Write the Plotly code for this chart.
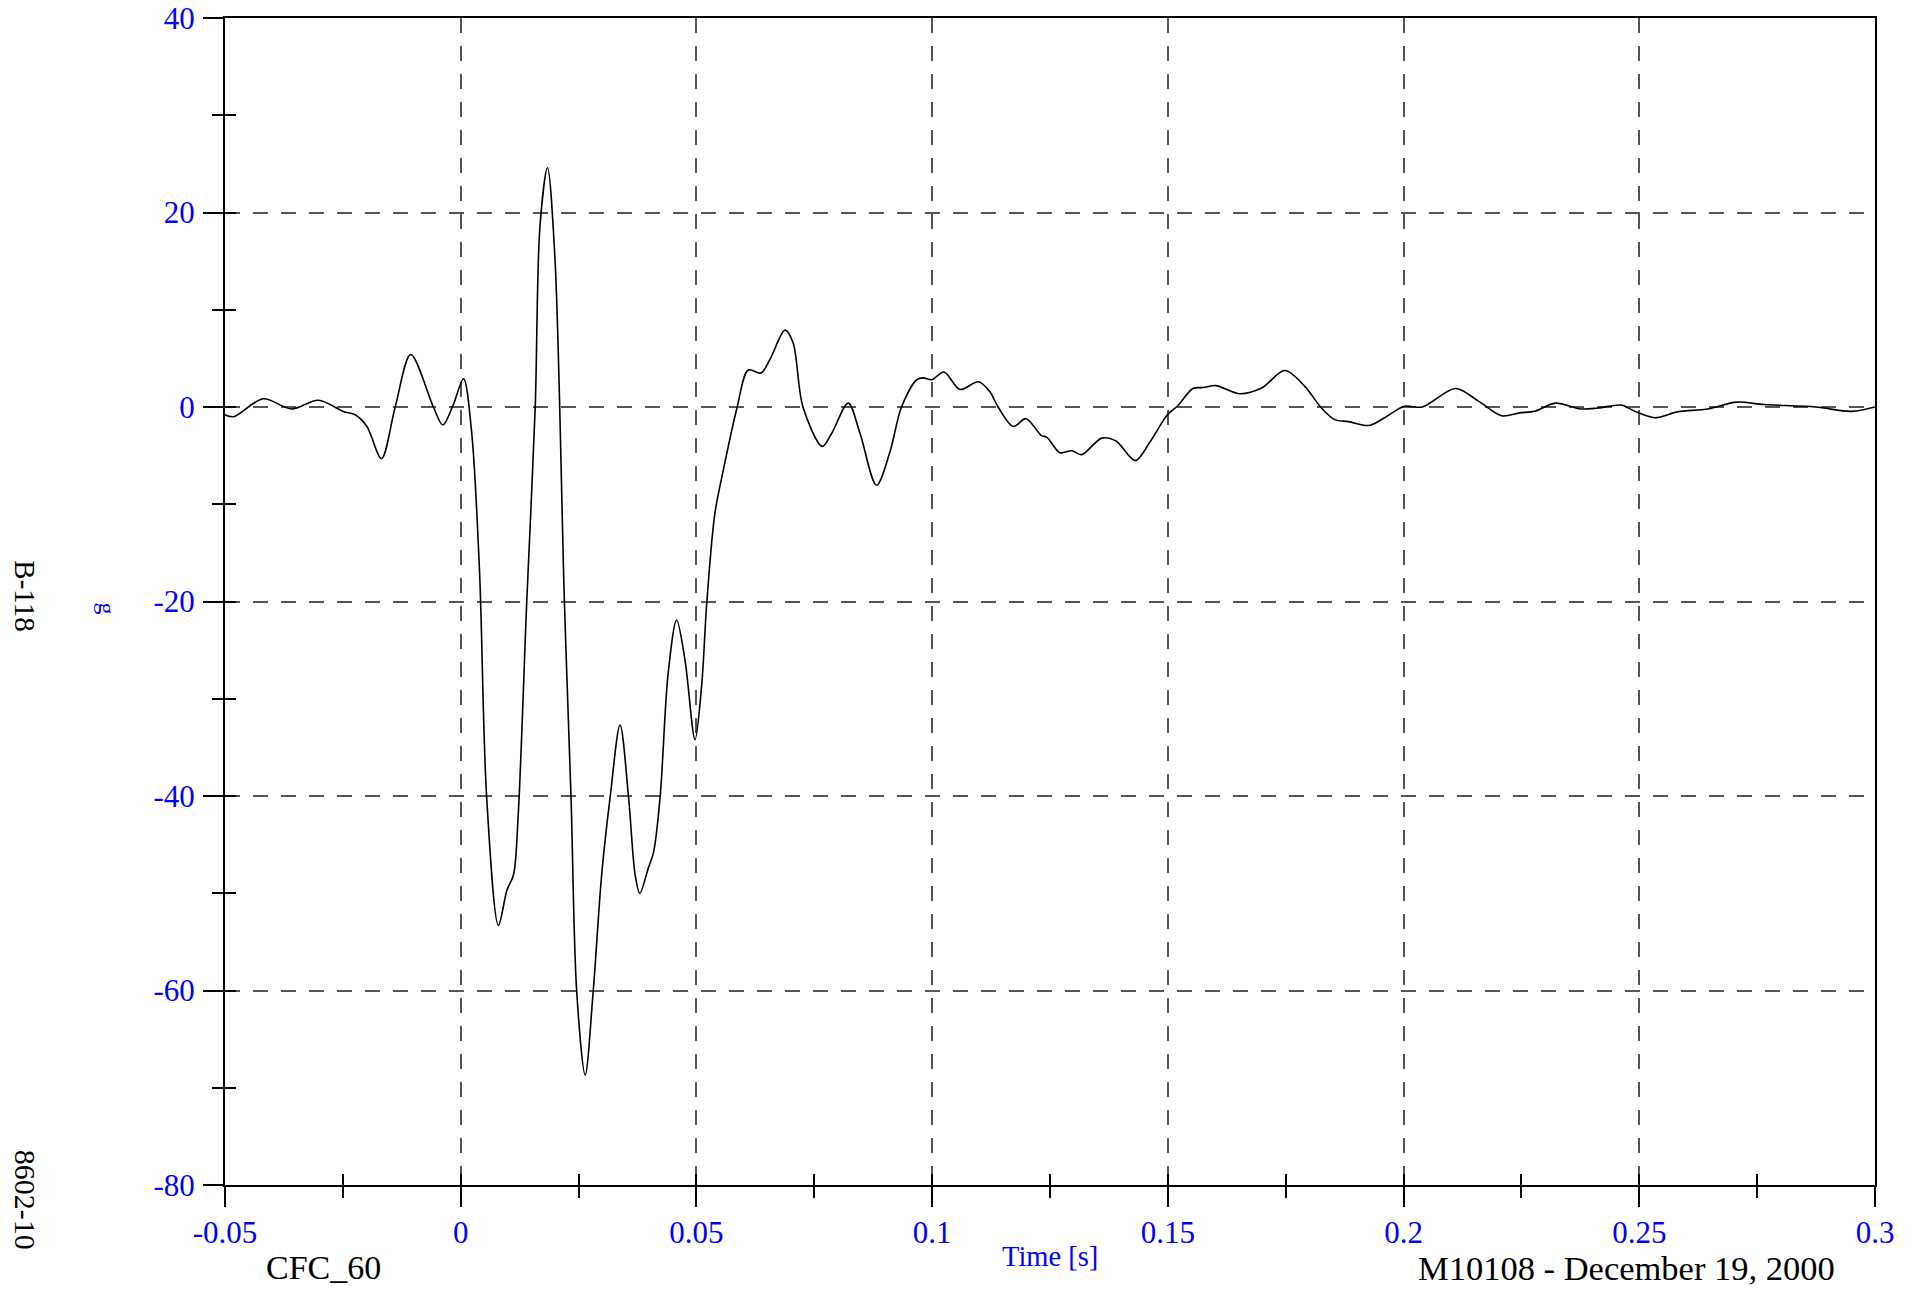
import plotly.graph_objects as go

# ---- data ----
time_s = [
    -0.0500, -0.0482, -0.0419, -0.0359, -0.0302, -0.0249, -0.0224, -0.0199, -0.0168, -0.0139,
    -0.0106, -0.0058, -0.0038, -0.0016, 0.0006, 0.0023, 0.0040, 0.0055, 0.0080, 0.0098,
    0.0112, 0.0122, 0.0140, 0.0158, 0.0168, 0.0184, 0.0200, 0.0220, 0.0234, 0.0246,
    0.0264, 0.0281, 0.0299, 0.0317, 0.0338, 0.0356, 0.0370, 0.0380, 0.0398, 0.0409,
    0.0423, 0.0440, 0.0458, 0.0476, 0.0497, 0.0511, 0.0522, 0.0539, 0.0557, 0.0586,
    0.0610, 0.0637, 0.0656, 0.0688, 0.0705, 0.0726, 0.0767, 0.0787, 0.0822, 0.0847,
    0.0882, 0.0910, 0.0935, 0.0967, 0.0981, 0.0999, 0.1025, 0.1059, 0.1098, 0.1122,
    0.1140, 0.1172, 0.1199, 0.1232, 0.1243, 0.1271, 0.1296, 0.1317, 0.1360, 0.1390,
    0.1431, 0.1462, 0.1499, 0.1521, 0.1553, 0.1575, 0.1602, 0.1651, 0.1699, 0.1748,
    0.1791, 0.1824, 0.1854, 0.1883, 0.1927, 0.1964, 0.2002, 0.2040, 0.2110, 0.2159,
    0.2208, 0.2246, 0.2278, 0.2322, 0.2376, 0.2413, 0.2462, 0.2489, 0.2533, 0.2581,
    0.2646, 0.2706, 0.2765, 0.2874, 0.2950, 0.3000,
]
accel_g = [
    -0.8, -1.0, 0.85, -0.2, 0.7, -0.45, -0.8, -2.0, -5.3, 0.0,
    5.4, 0.0, -1.85, 0.2, 2.9, -2.5, -17.0, -40.1, -53.3, -49.7,
    -48.1, -41.9, -20.1, -0.1, 18.5, 24.6, 15.2, -20.1, -40.1, -60.1,
    -68.7, -60.1, -48.1, -40.1, -32.7, -40.1, -48.1, -50.0, -47.4, -45.8,
    -40.1, -27.4, -21.9, -26.1, -34.2, -28.7, -20.1, -11.0, -6.5, -0.1,
    3.8, 3.5, 4.9, 7.9, 6.6, 0.0, -4.05, -2.7, 0.4, -2.7,
    -8.05, -4.7, 0.0, 2.8, 3.0, 2.8, 3.6, 1.8, 2.6, 1.6,
    0.0, -2.0, -1.2, -2.95, -3.1, -4.7, -4.5, -4.9, -3.2, -3.5,
    -5.5, -3.6, -0.8, 0.13, 1.9, 2.0, 2.2, 1.37, 1.95, 3.75,
    2.1, 0.0, -1.3, -1.5, -1.9, -0.97, 0.07, 0.0, 1.9, 0.6,
    -0.9, -0.6, -0.44, 0.4, -0.2, -0.1, 0.2, -0.4, -1.1, -0.5,
    -0.2, 0.5, 0.25, 0.0, -0.45, 0.0,
]

x_tick_vals = [-0.05, 0, 0.05, 0.1, 0.15, 0.2, 0.25, 0.3]
x_tick_text = ["-0.05", "0", "0.05", "0.1", "0.15", "0.2", "0.25", "0.3"]
y_tick_vals = [40, 20, 0, -20, -40, -60, -80]
y_tick_text = ["40", "20", "0", "-20", "-40", "-60", "-80"]
x_small_ticks = [-0.05, -0.025, 0, 0.025, 0.05, 0.075, 0.1, 0.125, 0.15, 0.175,
                 0.2, 0.225, 0.25, 0.275, 0.3]
y_small_ticks = [40, 30, 20, 10, 0, -10, -20, -30, -40, -50, -60, -70, -80]

x_range = [-0.05, 0.3]
y_range = [-80, 40]

SERIF = "Liberation Serif, Times New Roman, serif"
BLUE = "#0000ff"
GRID = "#555555"

fig = go.Figure()
fig.add_trace(go.Scatter(
    x=time_s, y=accel_g, mode="lines",
    line=dict(color="black", width=1.6, shape="spline", smoothing=0.9),
    showlegend=False, hoverinfo="skip",
))
# empty trace so that the overlay axes (inner tick marks) are drawn
fig.add_trace(go.Scatter(x=[], y=[], xaxis="x2", yaxis="y2", showlegend=False))

fig.update_layout(
    paper_bgcolor="white", plot_bgcolor="white",
    margin=dict(l=217, r=33, t=10, b=101),
    font=dict(family=SERIF, color="black"),
    xaxis=dict(
        range=x_range, tickvals=x_tick_vals, ticktext=x_tick_text,
        ticks="outside", ticklen=20, tickwidth=1.5, tickcolor="black",
        minor=dict(tickvals=x_small_ticks, ticks="outside", ticklen=11,
                   tickwidth=1.5, tickcolor="black", showgrid=False),
        showgrid=True, gridcolor=GRID, gridwidth=1.5, griddash="15px,13px",
        showline=True, linecolor="black", linewidth=2, mirror=True,
        zeroline=False, tickfont=dict(family=SERIF, size=31, color=BLUE),
        ticklabelstandoff=-1, automargin=False, ticklabeloverflow="allow",
    ),
    yaxis=dict(
        range=y_range, tickvals=y_tick_vals, ticktext=y_tick_text,
        ticks="outside", ticklen=20, tickwidth=1.5, tickcolor="black",
        minor=dict(tickvals=y_small_ticks, ticks="outside", ticklen=11,
                   tickwidth=1.5, tickcolor="black", showgrid=False),
        showgrid=True, gridcolor=GRID, gridwidth=1.5, griddash="15px,13px",
        showline=True, linecolor="black", linewidth=2, mirror=True,
        zeroline=False, tickfont=dict(family=SERIF, size=31, color=BLUE),
        ticklabelstandoff=2, automargin=False, ticklabeloverflow="allow",
    ),
    xaxis2=dict(
        overlaying="x", anchor="y2", side="bottom", range=x_range,
        tickvals=x_small_ticks, ticks="inside", ticklen=11, tickwidth=1.5,
        tickcolor="black", showticklabels=False, showgrid=False,
        zeroline=False, showline=False, automargin=False,
    ),
    yaxis2=dict(
        overlaying="y", anchor="x2", side="left", range=y_range,
        tickvals=y_small_ticks, ticks="inside", ticklen=11, tickwidth=1.5,
        tickcolor="black", showticklabels=False, showgrid=False,
        zeroline=False, showline=False, automargin=False,
    ),
    annotations=[
        dict(text="Time [s]", xref="paper", yref="paper", x=0.5, y=-0.061,
             xanchor="center", yanchor="middle", showarrow=False,
             font=dict(family=SERIF, size=28.5, color=BLUE)),
        dict(text="g", xref="paper", yref="paper", x=-0.0715, y=0.494,
             xanchor="center", yanchor="middle", showarrow=False, textangle=90,
             font=dict(family=SERIF, size=24, color=BLUE)),
        dict(text="B-118", xref="paper", yref="paper", x=-0.121, y=0.505,
             xanchor="center", yanchor="middle", showarrow=False, textangle=90,
             font=dict(family=SERIF, size=29, color="black")),
        dict(text="8602-10", xref="paper", yref="paper", x=-0.121, y=-0.013,
             xanchor="center", yanchor="middle", showarrow=False, textangle=90,
             font=dict(family=SERIF, size=30, color="black")),
        dict(text="CFC_60", xref="paper", yref="paper", x=0.0594, y=-0.071,
             xanchor="center", yanchor="middle", showarrow=False,
             font=dict(family=SERIF, size=34, color="black")),
        dict(text="M10108 - December 19, 2000", xref="paper", yref="paper",
             x=0.977, y=-0.071, xanchor="right", yanchor="middle", showarrow=False,
             font=dict(family=SERIF, size=34.5, color="black")),
    ],
)

fig.write_html("out.html")
